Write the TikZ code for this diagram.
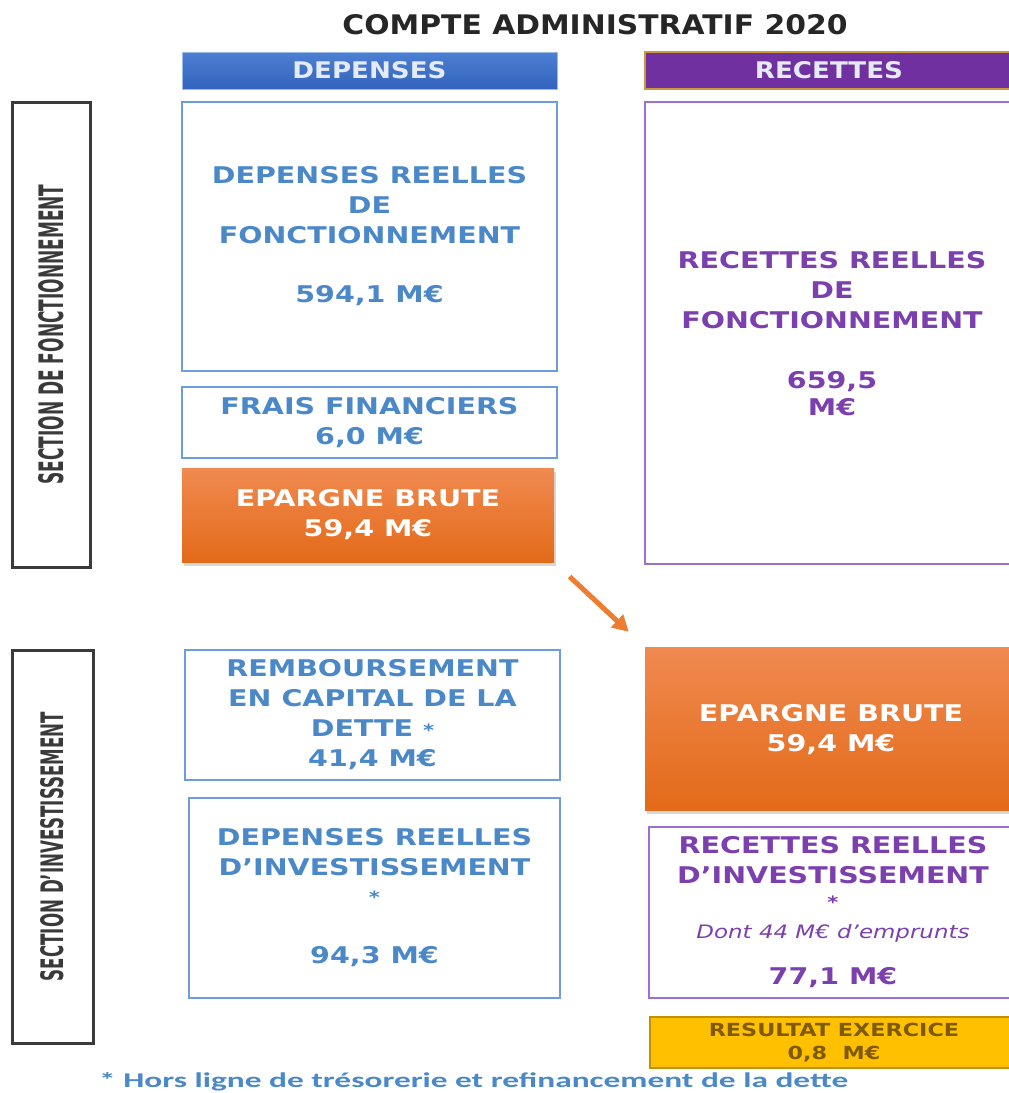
\documentclass[tikz,border=0pt]{standalone}
\usepackage{fontspec}
\setmainfont{DejaVu Sans}
\newfontfamily\bodyf{DejaVu Sans}[FakeStretch=1.24]
\newfontfamily\footf{Carlito}
\usetikzlibrary{arrows.meta,shadows}
\definecolor{tblue}{HTML}{4A88C8}
\definecolor{bborder}{HTML}{6D9CE0}
\definecolor{tpurple}{HTML}{7B3FAE}
\definecolor{pborder}{HTML}{9F6FD0}
\definecolor{orTop}{HTML}{F08A50}
\definecolor{orBot}{HTML}{E36A18}
\definecolor{hbTop}{HTML}{4C80D2}
\definecolor{hbBot}{HTML}{3363BE}
\definecolor{hpur}{HTML}{7030A0}
\definecolor{hgold}{HTML}{C89A3A}
\definecolor{secgray}{HTML}{3A3A3A}
\definecolor{yel}{HTML}{FFC000}
\definecolor{yelb}{HTML}{C09000}
\definecolor{yelt}{HTML}{7F5A00}
\definecolor{arrowor}{HTML}{ED7D31}
\definecolor{headtxt}{HTML}{E4EAF6}
\newcommand\smallast{{\fontsize{17}{17}\selectfont *}}
\begin{document}
\begin{tikzpicture}[x=1pt,y=-1pt,
  every node/.style={inner sep=0pt, align=center},
  bodytxt/.style={font=\bodyf\bfseries\fontsize{23}{30}\selectfont},
  bbox/.style={draw=bborder, line width=2pt, text=tblue, bodytxt},
  pbox/.style={draw=pborder, line width=2pt, text=tpurple, bodytxt},
  obox/.style={top color=orTop, bottom color=orBot, draw=none, text=white, bodytxt,
    drop shadow={shadow xshift=2pt, shadow yshift=-4pt, opacity=0.3}},
  secbox/.style={draw=secgray, line width=3pt, text=secgray},
  arrowc/.style={draw=arrowor, line width=5pt, -{Triangle[length=16pt,width=17pt]}}
]
\useasboundingbox (0,0) rectangle (1009,1093);
\fill[white] (0,0) rectangle (1009,1093);

% title
\node[text=black!85] (title) at (595,25) {\resizebox{505pt}{20pt}{\bfseries COMPTE ADMINISTRATIF 2020}};

% headers
\node[top color=hbTop, bottom color=hbBot, draw=bborder!70, line width=0.8pt,
      minimum width=375, minimum height=37, text=headtxt] (hdep) at (369.5,70.5)
      {\resizebox{154pt}{17pt}{\bfseries DEPENSES}};
\node[fill=hpur, draw=hgold, line width=1.5pt,
      minimum width=368, minimum height=37, text=headtxt] (hrec) at (829,70.5)
      {\resizebox{148pt}{17pt}{\bfseries RECETTES}};

% section boxes
\node[secbox, minimum width=78, minimum height=465] (secF) at (51,334.5)
      {\rotatebox{90}{\resizebox{300pt}{25pt}{\bfseries SECTION DE FONCTIONNEMENT}}};
\node[secbox, minimum width=81, minimum height=393] (secI) at (52.5,846.5)
      {\rotatebox{90}{\resizebox{269pt}{23pt}{\bfseries SECTION D’INVESTISSEMENT}}};

% fonctionnement - depenses
\node[bbox, minimum width=375, minimum height=269] (drf) at (369.5,236.5)
      {DEPENSES REELLES\\DE\\FONCTIONNEMENT\\[29pt]594,1 M€};
\node[bbox, minimum width=375, minimum height=71] (ff) at (369.5,422.5)
      {FRAIS FINANCIERS\\6,0 M€};
\node[obox, minimum width=372, minimum height=94] (ebL) at (368,515)
      {EPARGNE BRUTE\\59,4 M€};

% fonctionnement - recettes
\node[pbox, minimum width=368, minimum height=462] (rrf) at (829,333) {};
\node[text=tpurple, bodytxt] (rrft) at (832,334)
      {RECETTES REELLES\\DE\\FONCTIONNEMENT\\[30pt]659,5\\[-3pt]M€};

% investissement - depenses
\node[bbox, minimum width=375, minimum height=130] (remb) at (372.5,715)
      {REMBOURSEMENT\\EN CAPITAL DE LA\\DETTE \smallast\\41,4 M€};
\node[bbox, minimum width=371, minimum height=200] (dri) at (374.5,898)
      {DEPENSES REELLES\\D’INVESTISSEMENT\\[-2pt]\smallast\\[30pt]94,3 M€};

% investissement - recettes
\node[obox, minimum width=368, minimum height=163] (ebR) at (829,728.5) {};
\node[text=white, bodytxt] (ebRt) at (831,729.5) {EPARGNE BRUTE\\59,4 M€};
\node[pbox, minimum width=364, minimum height=171] (rri) at (831,912.5) {};
\node[text=tpurple, bodytxt] (rrit) at (833,912)
      {RECETTES REELLES\\D’INVESTISSEMENT\\[-5pt]\smallast\\[0pt]{\mdseries\itshape\fontsize{18.5}{20}\selectfont Dont 44 M€ d’emprunts}\\[16pt]77,1 M€};

% resultat
\node[fill=yel, draw=yelb, line width=1.2pt, minimum width=362, minimum height=51] (res) at (831,1042.5) {};
\node[text=yelt, font=\bodyf\bfseries\fontsize{18}{23}\selectfont] (rest) at (834,1043)
      {RESULTAT EXERCICE\\0,8~~M€};

% arrow
\draw[arrowc, shorten <=21pt, shorten >=22pt] (ebL.south east) -- (ebR.north west);

% footnote
\node[anchor=base west, text=tblue] (foot) at (99,1087)
      {\resizebox{749pt}{15pt}{\footf\bfseries * Hors ligne de trésorerie et refinancement de la dette}};
\end{tikzpicture}
\end{document}
